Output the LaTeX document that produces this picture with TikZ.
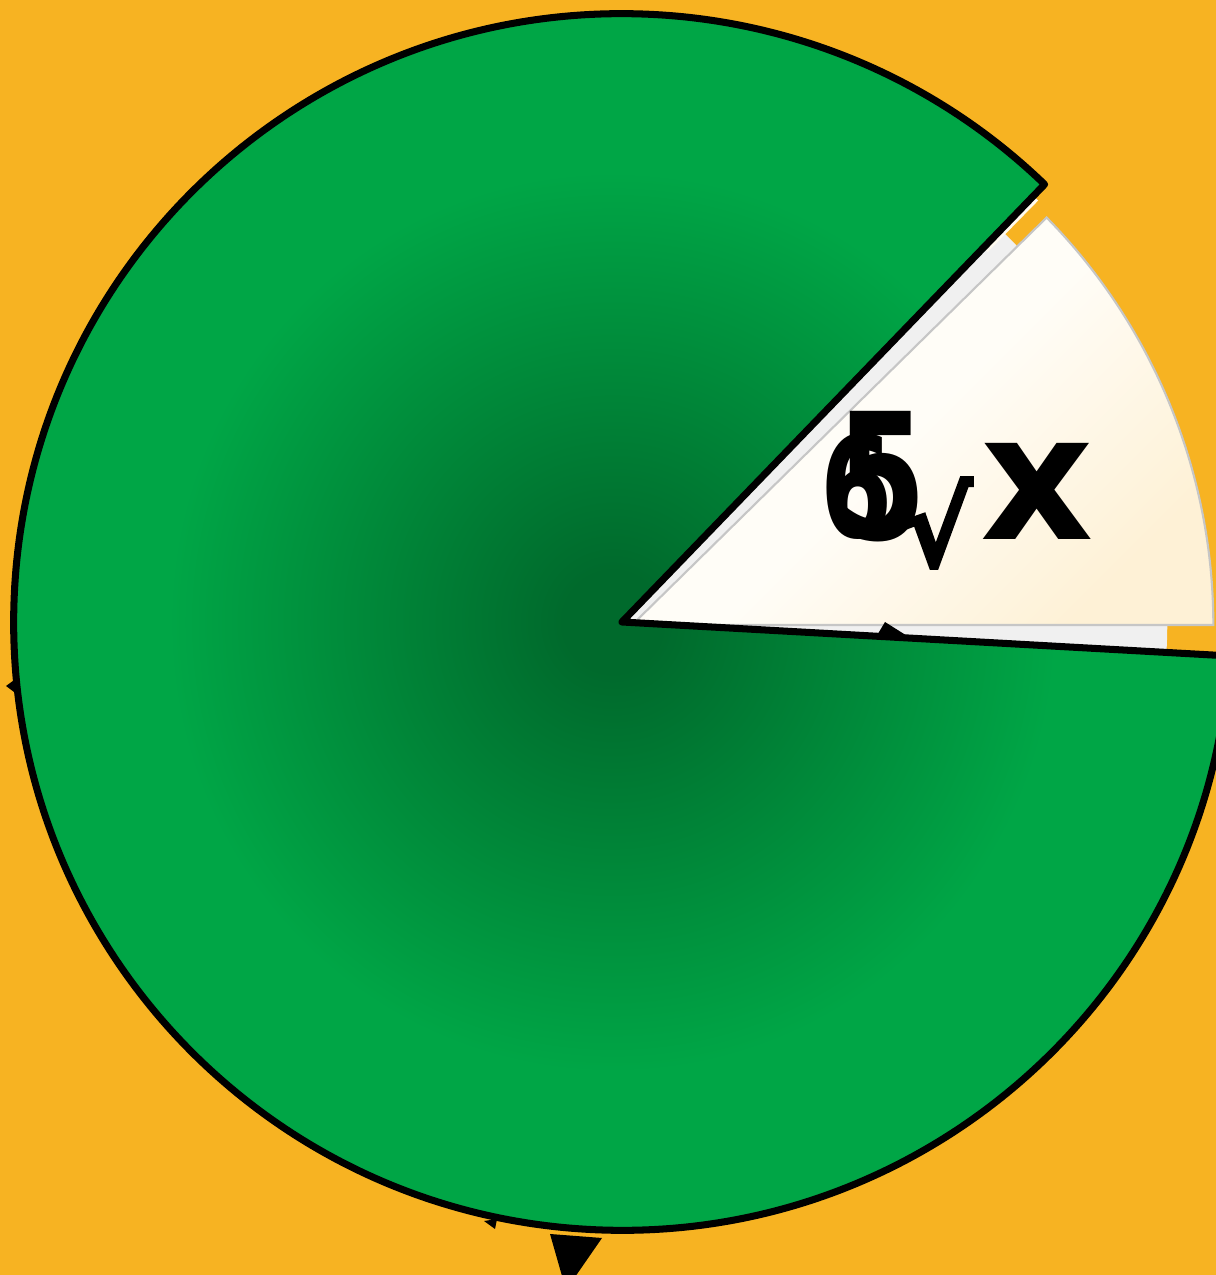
\documentclass[tikz,border=0pt]{standalone}
\usepackage{fontspec}
\usetikzlibrary{calc}
\newfontfamily\djsans{DejaVu Sans}
\newfontfamily\djnarrow[FakeStretch=0.74]{DejaVu Sans}
\newfontfamily\djroot[FakeBold=3]{DejaVu Sans}
\definecolor{bgorange}{RGB}{247,179,34}
\definecolor{gdark}{RGB}{0,106,44}
\definecolor{gbright}{RGB}{0,166,70}
\definecolor{creamA}{RGB}{255,253,247}
\definecolor{creamB}{RGB}{254,241,214}
\definecolor{stripgray}{RGB}{240,240,240}
\pgfdeclareradialshading{greenrad}{\pgfpoint{0bp}{0bp}}{color(0bp)=(gdark); color(2bp)=(gdark); color(18bp)=(gbright); color(50bp)=(gbright)}
\begin{document}
\begin{tikzpicture}[x=0.01cm,y=0.01cm,
  outline/.style={draw=black, line width=2pt, line join=round},
  tipmark/.style={fill=black, draw=none},
  biglabel/.style={font=\djnarrow\bfseries\fontsize{50pt}{50pt}\selectfont, inner sep=0pt, anchor=base west},
  sixlabel/.style={font=\djnarrow\bfseries\fontsize{40pt}{40pt}\selectfont, inner sep=0pt, anchor=base west},
  xlabel/.style={font=\djsans\bfseries\fontsize{50pt}{50pt}\selectfont, inner sep=0pt, anchor=base west},
  rootlabel/.style={font=\djroot\bfseries\fontsize{30pt}{30pt}\selectfont, inner sep=0pt}]
\fill[bgorange] (0,0) rectangle (1216,1275);
\useasboundingbox (0,0) rectangle (1216,1275);
\clip (0,0) rectangle (1216,1275);
\coordinate (C) at (622,653);
\coordinate (W) at (632,650);
% gray wedge behind
\fill[stripgray] (C) -- ++(-3.2:5.45cm) arc[start angle=-3.2,end angle=46,radius=5.45cm] -- cycle;
\draw[creamA!80!creamB, line width=1.4pt] ($(C)+(45.6:5.2cm)$) -- ($(C)+(45.6:5.92cm)$);
% cream wedge
\shade[top color=creamA, bottom color=creamB, middle color=creamA, shading angle=45, draw=gray!45, line width=0.6pt]
  (W) -- ++(0:5.81cm) arc[start angle=0,end angle=44.5,radius=5.81cm] -- cycle;
% green pie
\shade[shading=greenrad, outline]
  (C) -- ++(-3.2:6.08cm) arc[start angle=-3.2,end angle=-314,radius=6.08cm] -- cycle;
% tips
\fill[tipmark] (550,41) -- (602,37) -- (566,-15) -- cycle;
\fill[tipmark] (876,638) -- (885,653) -- (912,636) -- cycle;
\fill[tipmark] (17,597) -- (6,589) -- (18,580) -- cycle;
\fill[tipmark] (484,54) -- (495,46) -- (497,56) -- cycle;
% labels
\node[sixlabel] (six) at (820,737) {6};
\node[biglabel] (five) at (836,735) {5};
\node[rootlabel] (root) at (937,752) {√};
\node[xlabel] (ex) at (980,735) {x};
\end{tikzpicture}
\end{document}
